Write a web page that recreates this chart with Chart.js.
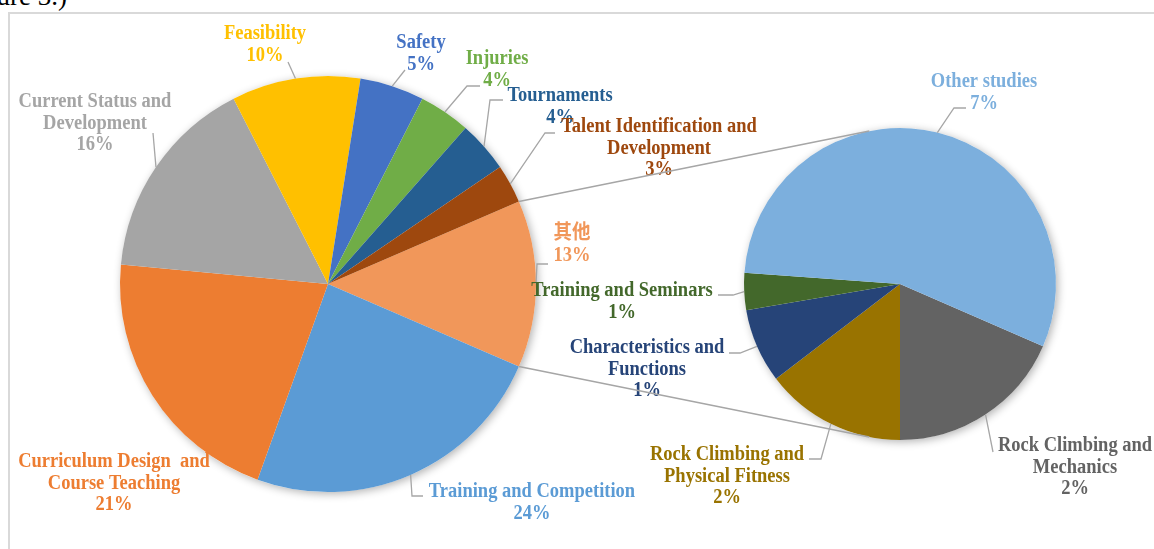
<!DOCTYPE html>
<html>
<head>
<meta charset="utf-8">
<script src="https://cdn.jsdelivr.net/npm/chart.js@4.4.0/dist/chart.umd.min.js"></script>
<style>
  body { margin: 0; background: #fff; }
  #wrap { position: relative; width: 1154px; height: 549px; overflow: hidden; }
  #frame { position: absolute; left: 8px; top: 12px; right: 0; bottom: 0; border-left: 2px solid #d9d9d9; border-top: 2px solid #d9d9d9; }
  #caption { position: absolute; right: 1087px; top: -17px; font: 27px "Liberation Serif", serif; line-height: 27px; white-space: nowrap; color: #000; }
  canvas { position: absolute; left: 0; top: 0; }
</style>
</head>
<body>
<div id="wrap">
  <div id="caption">Figure 3.)</div>
  <div id="frame"></div>
  <canvas id="mainPie" width="1154" height="549"></canvas>
  <canvas id="subPie" width="1154" height="549"></canvas>
</div>
<script>
// main pie, clockwise starting with the "其他" slice
const mainCategories = ['其他', 'Training and Competition', 'Curriculum Design  and\nCourse Teaching', 'Current Status and\nDevelopment', 'Feasibility', 'Safety', 'Injuries', 'Tournaments', 'Talent Identification and\nDevelopment'];
const mainValues = [13, 24, 21, 16, 10, 5, 4, 4, 3];
const mainColors = ['#F1975A', '#5B9BD5', '#ED7D31', '#A5A5A5', '#FFC000', '#4472C4', '#70AD47', '#255E91', '#9E480E'];

// second pie: breakdown of "其他", clockwise from the bottom-right slice
const subCategories = ['Rock Climbing and\nMechanics', 'Rock Climbing and\nPhysical Fitness', 'Characteristics and\nFunctions', 'Training and Seminars', 'Other studies'];
const subValues = [2.4, 1.9, 1.0, 0.5, 7.2];
const subColors = ['#636363', '#997300', '#264478', '#43682B', '#7CAFDD'];

const FONT = 'bold 18.5px "Liberation Serif", "Noto Sans CJK SC", serif';
const LINE_H = 21.5;
const LEADER = '#A6A6A6';

// label placement (text centre of first line + leader elbow points)
const mainLabelPos = [
  { x: 572, y: 234, leader: [[537, 264], [548, 264]] },
  { x: 532, y: 492, leader: [[412, 496], [423, 496]] },
  { x: 114, y: 462, leader: null },
  { x: 95, y: 102, leader: [[153, 133]] },
  { x: 265, y: 34, leader: [[288, 62]] },
  { x: 421, y: 43, leader: [[405, 70]] },
  { x: 497, y: 59, leader: [[467, 86], [480, 86]] },
  { x: 560, y: 96, leader: [[490, 100], [503, 100]] },
  { x: 659, y: 127, leader: [[545, 133], [555, 133]] }
];
const subLabelPos = [
  { x: 1075, y: 446, leader: [[993, 452]] },
  { x: 727, y: 455, leader: [[821, 459], [809, 459]] },
  { x: 647, y: 348, leader: [[740, 353], [729, 353]] },
  { x: 622, y: 291, leader: [[733, 295], [718, 295]] },
  { x: 984, y: 82, leader: [[954, 108], [966, 108]] }
];

const total = mainValues.reduce((a, b) => a + b, 0);
const subTotal = subValues.reduce((a, b) => a + b, 0);

function pieShadow() {
  return {
    id: 'pieShadow',
    beforeDatasetsDraw(chart) {
      const arc = chart.getDatasetMeta(0).data[0];
      const ctx = chart.ctx;
      ctx.save();
      ctx.shadowColor = 'rgba(0,0,0,0.3)';
      ctx.shadowBlur = 8;
      ctx.shadowOffsetX = 2;
      ctx.shadowOffsetY = 2;
      ctx.beginPath();
      ctx.arc(arc.x, arc.y, arc.outerRadius, 0, Math.PI * 2);
      ctx.fillStyle = '#fff';
      ctx.fill();
      ctx.restore();
    }
  };
}

function pieLabels(categories, values, colors, layout) {
  return {
    id: 'pieLabels',
    afterDatasetsDraw(chart) {
      const ctx = chart.ctx;
      const arcs = chart.getDatasetMeta(0).data;
      ctx.save();
      arcs.forEach((arc, i) => {
        const pos = layout[i];
        if (pos.leader) {
          const mid = (arc.startAngle + arc.endAngle) / 2;
          ctx.beginPath();
          ctx.moveTo(arc.x + Math.cos(mid) * arc.outerRadius, arc.y + Math.sin(mid) * arc.outerRadius);
          pos.leader.forEach(p => ctx.lineTo(p[0], p[1]));
          ctx.strokeStyle = LEADER;
          ctx.lineWidth = 1.3;
          ctx.stroke();
        }
        const lines = categories[i].split('\n');
        lines.push(Math.round(values[i] / total * 100) + '%');
        ctx.font = FONT;
        ctx.fillStyle = colors[i];
        ctx.textAlign = 'center';
        ctx.textBaseline = 'middle';
        lines.forEach((t, k) => {
          // the source text is a little taller than it is wide
          ctx.save();
          ctx.translate(pos.x, pos.y + k * LINE_H);
          ctx.scale(1, 1.08);
          ctx.fillText(t, 0, 0);
          ctx.restore();
        });
      });
      ctx.restore();
    }
  };
}

function pieOptions(rotation, padding) {
  return {
    responsive: false,
    animation: false,
    rotation: rotation,
    layout: { padding: padding },
    elements: { arc: { borderWidth: 0, hoverOffset: 0, offset: 0 } },
    plugins: { legend: { display: false }, tooltip: { enabled: false } },
    events: []
  };
}

const mainChart = new Chart(document.getElementById('mainPie'), {
  type: 'pie',
  data: {
    labels: mainCategories,
    datasets: [{ data: mainValues, backgroundColor: mainColors }]
  },
  options: pieOptions(90 - mainValues[0] / total * 180, { left: 120, right: 618, top: 76, bottom: 57 }),
  plugins: [pieShadow(), pieLabels(mainCategories, mainValues, mainColors, mainLabelPos)]
});

// lines joining the "其他" slice to the second pie (tangents)
const connector = {
  id: 'connector',
  afterDatasetsDraw(chart) {
    const other = mainChart.getDatasetMeta(0).data[0];
    const sub = chart.getDatasetMeta(0).data[0];
    const ctx = chart.ctx;
    const R = sub.outerRadius;
    const ends = [[other.startAngle, -1], [other.endAngle, 1]];
    ctx.save();
    ctx.strokeStyle = LEADER;
    ctx.lineWidth = 1.5;
    ends.forEach(([ang, side]) => {
      const px = other.x + Math.cos(ang) * other.outerRadius;
      const py = other.y + Math.sin(ang) * other.outerRadius;
      const dx = sub.x - px, dy = sub.y - py;
      const d = Math.sqrt(dx * dx + dy * dy);
      const dir = Math.atan2(dy, dx) + side * Math.asin(R / d);
      const L = Math.sqrt(d * d - R * R);
      ctx.beginPath();
      ctx.moveTo(px, py);
      ctx.lineTo(px + Math.cos(dir) * L, py + Math.sin(dir) * L);
      ctx.stroke();
    });
    ctx.restore();
  }
};

new Chart(document.getElementById('subPie'), {
  type: 'pie',
  data: {
    labels: subCategories,
    datasets: [{ data: subValues, backgroundColor: subColors }]
  },
  options: pieOptions(180 - subValues[0] / subTotal * 360, { left: 744, right: 98, top: 128, bottom: 109 }),
  plugins: [pieShadow(), pieLabels(subCategories, subValues, subColors, subLabelPos), connector]
});
</script>
</body>
</html>
